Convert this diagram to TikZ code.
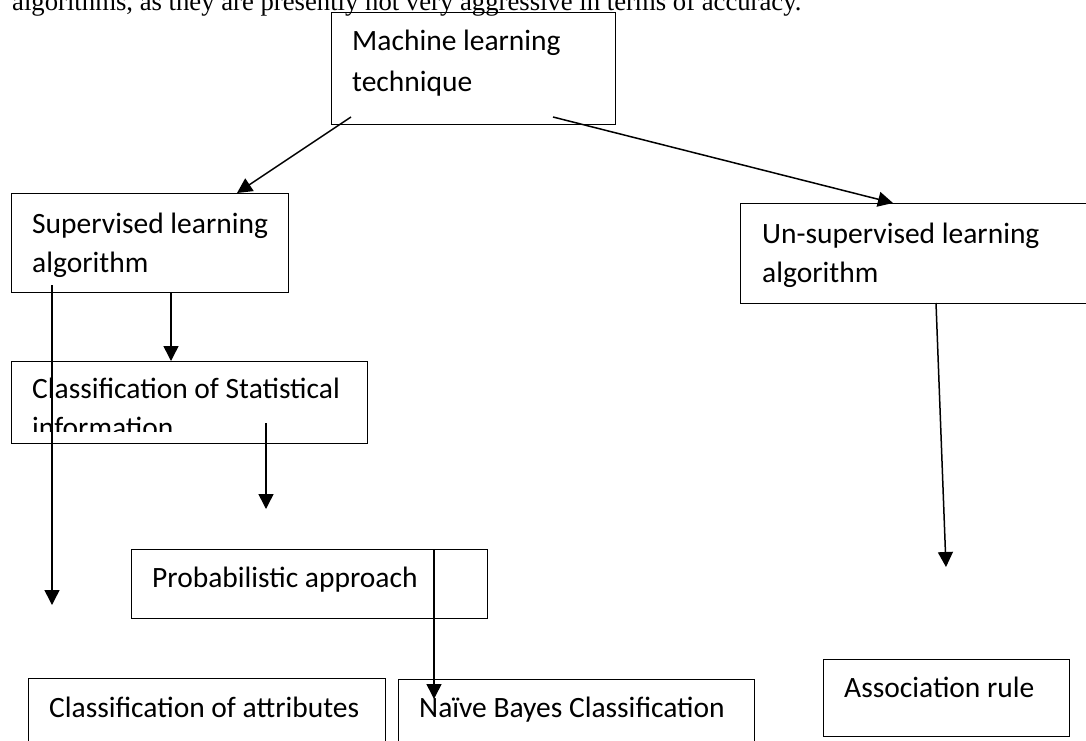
\documentclass[tikz,border=0pt]{standalone}
\usepackage{fontspec}
\setmainfont{Liberation Serif}
\newfontfamily\calib{Carlito}
\usetikzlibrary{arrows.meta}

\tikzset{
  box/.style={draw, line width=1.4pt, rectangle, inner sep=0pt, anchor=north west},
  boxtext/.style={font=\calib\fontsize{29.5}{39}\selectfont, anchor=base west, align=left, inner sep=0pt},
  arr/.style={line width=1.5pt, -{Triangle[length=15pt, width=15pt]}}
}

\begin{document}
\begin{tikzpicture}[x=1pt, y=-1pt]

  \useasboundingbox (0,0) rectangle (1086,740);
  \clip (0,0) rectangle (1086,740);

  % --------------------------------------------------------------------
  % running text above the figure
  % --------------------------------------------------------------------

  \node[font=\fontsize{26.7}{30}\selectfont, anchor=base west, inner sep=0pt] (para) at (12,10)
    {algorithms, as they are presently not very aggressive in terms of accuracy.};

  % --------------------------------------------------------------------
  % boxes
  % --------------------------------------------------------------------

  \node[box, minimum width=284pt, minimum height=112pt] (mlt)   at (331,12)  {};
  \node[box, minimum width=277pt, minimum height=99pt]  (sup)   at (11,193)  {};
  \node[box, minimum width=360pt, minimum height=100pt] (unsup) at (740,203) {};
  \node[box, minimum width=356pt, minimum height=82pt]  (stat)  at (11,361)  {};
  \node[box, minimum width=356pt, minimum height=69pt]  (prob)  at (131,549) {};
  \node[box, minimum width=357pt, minimum height=80pt]  (attr)  at (28,678)  {};
  \node[box, minimum width=356pt, minimum height=80pt]  (nbc)   at (398,679) {};
  \node[box, minimum width=246pt, minimum height=77pt]  (assoc) at (823,659) {};

  % --------------------------------------------------------------------
  % box texts
  % --------------------------------------------------------------------

  \node[boxtext] (mlttext)   at (352,50)  {Machine learning};
  \node[boxtext] (mlttext2)  at (352,91)  {technique};
  \node[boxtext] (suptext)   at (32,233)  {Supervised learning};
  \node[boxtext] (suptext2)  at (32,272)  {algorithm};
  \node[boxtext] (unsuptext) at (762,243) {Un-supervised learning};
  \node[boxtext] (unsuptext2) at (762,282) {algorithm};
  \node[boxtext] (stattext)  at (32,398)  {Classification of Statistical};
  \begin{scope}
    \clip (11,361) rectangle (367,431);
    \node[boxtext] (stattext2) at (32,437) {information};
  \end{scope}
  \node[boxtext] (probtext)  at (152,587) {Probabilistic approach};
  \node[boxtext] (attrtext)  at (49,717)  {Classification of attributes};
  \node[boxtext] (nbctext)   at (419,717) {Naïve Bayes Classification};
  \node[boxtext] (assoctext) at (844,697) {Association rule};

  % --------------------------------------------------------------------
  % arrow ends
  % --------------------------------------------------------------------

  \coordinate (mltL)   at (351,117);
  \coordinate (mltR)   at (553,117);
  \coordinate (supin)  at (237,193);
  \coordinate (unsupin) at (893,203);
  \coordinate (supout) at (171,292);
  \coordinate (statin) at (171,361);
  \coordinate (longtop) at (52,285);
  \coordinate (longend) at (52,605);
  \coordinate (statout) at (266,423);
  \coordinate (statend) at (266,509);
  \coordinate (probtop) at (434,549);
  \coordinate (nbcend)  at (434,699);
  \coordinate (unsupout) at (936,303);
  \coordinate (unsupend) at (946,567);

  % --------------------------------------------------------------------
  % arrows
  % --------------------------------------------------------------------

  \draw[arr] (mltL) -- (supin);
  \draw[arr] (mltR) -- (unsupin);
  \draw[arr] (supout) -- (statin);
  \draw[arr] (longtop) -- (longend);
  \draw[arr] (statout) -- (statend);
  \draw[arr] (probtop) -- (nbcend);
  \draw[arr] (unsupout) -- (unsupend);

\end{tikzpicture}
\end{document}
